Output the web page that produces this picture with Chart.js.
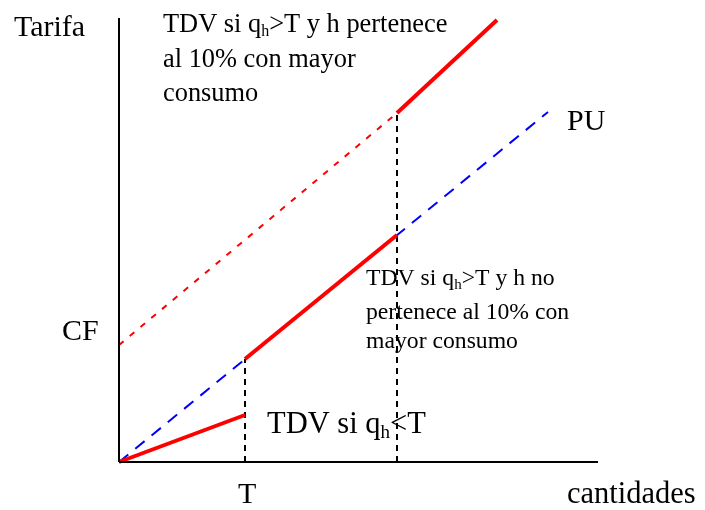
<!DOCTYPE html>
<html>
<head>
<meta charset="utf-8">
<script src="https://cdn.jsdelivr.net/npm/chart.js@4/dist/chart.umd.min.js"></script>
<style>
  html, body { margin: 0; padding: 0; background: #fff; }
  #wrap { width: 705px; height: 510px; }
</style>
</head>
<body>
<div id="wrap"><canvas id="chart"></canvas></div>
<script>
// Diagram coordinates (origin = where the axes meet)
const xAxisLine = [{ x: 0, y: 0 }, { x: 479, y: 0 }];
const yAxisLine = [{ x: 0, y: 0 }, { x: 0, y: 444 }];
const puLine = [{ x: 0, y: 0 }, { x: 429, y: 350 }];
const tdvLow = [{ x: 0, y: 0 }, { x: 126, y: 47 }];
const tdvMid = [{ x: 126, y: 103 }, { x: 278, y: 227 }];
const tdvHighDashed = [{ x: 0, y: 117 }, { x: 278, y: 349 }];
const tdvHigh = [{ x: 278, y: 349 }, { x: 378, y: 442 }];
const guideT = [{ x: 126, y: 0 }, { x: 126, y: 103 }];
const guideTop = [{ x: 278, y: 0 }, { x: 278, y: 349 }];

// Text labels, each one a list of pieces (sub = subscript)
const labels = [
  { x: -105, y: 426, size: 30, parts: [{ t: "Tarifa" }] },
  { x: -57, y: 122, size: 30, parts: [{ t: "CF" }] },
  { x: 119, y: -41, size: 30, parts: [{ t: "T" }] },
  { x: 448, y: -41, size: 30.5, parts: [{ t: "cantidades" }] },
  { x: 448, y: 332, size: 30, parts: [{ t: "PU" }] },
  { x: 148, y: 29, size: 30.5, parts: [{ t: "TDV si q" }, { t: "h", sub: true }, { t: "<T" }] },
  { x: 44, y: 430, size: 26.4, parts: [{ t: "TDV si q" }, { t: "h", sub: true }, { t: ">T y h pertenece" }] },
  { x: 44, y: 395, size: 26.4, parts: [{ t: "al 10% con mayor" }] },
  { x: 44, y: 361, size: 26.4, parts: [{ t: "consumo" }] },
  { x: 247, y: 177, size: 23.7, parts: [{ t: "TDV si q" }, { t: "h", sub: true }, { t: ">T y h no" }] },
  { x: 247, y: 143, size: 23.7, parts: [{ t: "pertenece al 10% con" }] },
  { x: 247, y: 114, size: 23.7, parts: [{ t: "mayor consumo" }] },
];

const FONT = '"Liberation Serif", "Times New Roman", serif';

// order: lower numbers are drawn on top
function line(data, color, width, dash, order) {
  return {
    data: data,
    showLine: true,
    borderColor: color,
    borderWidth: width,
    borderDash: dash || [],
    pointRadius: 0,
    clip: false,
    borderCapStyle: "butt",
    order: order,
  };
}

const textPlugin = {
  id: "diagramText",
  beforeDatasetsDraw(chart) {
    const ctx = chart.ctx;
    const xs = chart.scales.x;
    const ys = chart.scales.y;
    ctx.save();
    ctx.fillStyle = "#000";
    ctx.textBaseline = "alphabetic";
    ctx.textAlign = "left";
    labels.forEach((lab) => {
      let px = xs.getPixelForValue(lab.x);
      const py = ys.getPixelForValue(lab.y);
      lab.parts.forEach((p) => {
        const size = p.sub ? Math.round(lab.size * 0.62) : lab.size;
        ctx.font = size + "px " + FONT;
        ctx.fillText(p.t, px, p.sub ? py + lab.size * 0.16 : py);
        px += ctx.measureText(p.t).width;
      });
    });
    ctx.restore();
  },
};

new Chart(document.getElementById("chart"), {
  type: "scatter",
  data: {
    datasets: [
      line(guideT, "#000", 2, [6, 5], 5),
      line(guideTop, "#000", 2, [6, 5], 5),
      line(puLine, "#0000ff", 2, [12, 9], 4),
      line(tdvHighDashed, "#ff0000", 2, [6, 8], 4),
      line(tdvLow, "#ff0000", 4, [], 2),
      line(tdvMid, "#ff0000", 4, [], 2),
      line(tdvHigh, "#ff0000", 4, [], 2),
      line(xAxisLine, "#000", 2, [], 1),
      line(yAxisLine, "#000", 2, [], 1),
    ],
  },
  options: {
    responsive: true,
    maintainAspectRatio: false,
    animation: false,
    layout: { padding: { left: 119, right: 107, top: 18, bottom: 48 } },
    plugins: { legend: { display: false }, tooltip: { enabled: false } },
    scales: {
      x: { type: "linear", min: 0, max: 479, display: false },
      y: { type: "linear", min: 0, max: 444, display: false },
    },
  },
  plugins: [textPlugin],
});
</script>
</body>
</html>
